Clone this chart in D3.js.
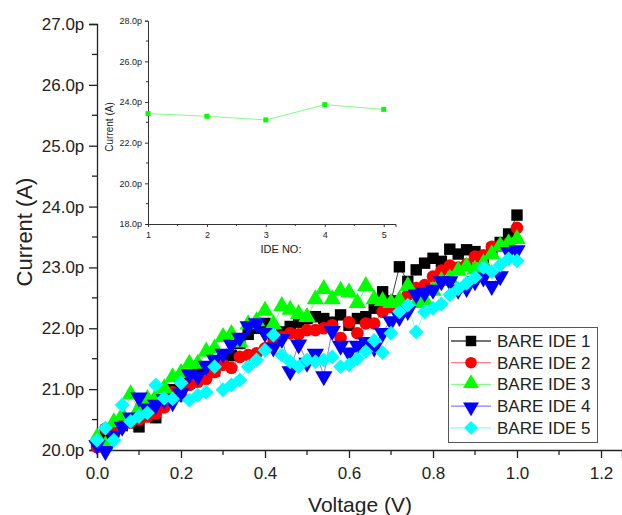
<!DOCTYPE html>
<html>
<head>
<meta charset="utf-8">
<script src="https://cdn.jsdelivr.net/npm/d3@7"></script>
<style>
  body { margin: 0; background: #fff; }
  svg { display: block; font-family: "Liberation Sans", Arial, sans-serif; }
</style>
</head>
<body>
<svg id="chart" width="622" height="515"></svg>
<script>
// ---- data ----
const voltage = d3.range(0, 51).map(i => +(i * 0.02).toFixed(2));

const ide1 = [20.10, 20.27, 20.30, 20.40, 20.45, 20.38, 20.55, 20.53, 20.75, 20.99,
              20.95, 21.10, 21.31, 21.25, 21.30, 21.50, 21.55, 21.75, 21.90, 22.00,
              22.08, 21.85, 21.94, 22.03, 22.10, 22.16, 22.19, 22.16, 22.10, 22.22,
              22.05, 22.16, 22.19, 22.33, 22.60, 22.45, 23.01, 22.77, 22.96, 23.07,
              23.15, 23.10, 23.30, 23.22, 23.29, 23.26, 23.07, 23.30, 23.41, 23.55, 23.86];
const ide2 = [20.05, 20.35, 20.30, 20.40, 20.45, 20.50, 20.55, 20.60, 20.70, 20.95,
              20.90, 21.07, 21.12, 21.17, 21.28, 21.40, 21.35, 21.53, 21.56, 21.59,
              21.67, 21.75, 21.86, 21.92, 21.90, 21.97, 21.97, 22.00, 22.05, 21.84,
              22.10, 21.92, 22.08, 22.08, 22.27, 22.35, 22.44, 22.55, 22.66, 22.71,
              22.85, 22.95, 23.03, 23.00, 23.05, 23.18, 23.20, 23.34, 23.36, 23.40, 23.65];
const ide3 = [20.19, 20.06, 20.44, 20.55, 20.90, 20.66, 20.82, 20.85, 21.00, 21.18,
              21.25, 21.40, 21.40, 21.60, 21.65, 21.84, 21.89, 21.75, 22.05, 22.10,
              22.27, 22.05, 22.35, 22.29, 22.22, 22.17, 22.46, 22.63, 22.46, 22.60,
              22.57, 22.40, 22.68, 22.46, 22.43, 22.40, 22.45, 22.68, 22.40, 22.45,
              22.60, 22.76, 22.80, 22.93, 23.00, 22.95, 23.05, 23.20, 23.34, 23.38, 23.45];
const ide4 = [20.10, 20.00, 20.25, 20.40, 20.55, 20.88, 20.70, 20.76, 20.85, 20.80,
              20.95, 21.26, 21.23, 21.40, 21.50, 21.60, 21.75, 21.86, 22.05, 22.10,
              21.94, 21.70, 21.84, 21.31, 21.75, 21.45, 21.60, 21.23, 21.97, 21.73,
              21.62, 21.73, 21.79, 21.70, 21.94, 22.13, 22.20, 22.30, 22.57, 22.60,
              22.65, 22.79, 22.79, 22.65, 22.68, 22.79, 22.85, 22.71, 22.87, 23.27, 23.30];
const ide5 = [20.16, 20.36, 20.16, 20.74, 20.47, 20.55, 20.61, 21.07, 20.85, 20.84,
              21.10, 20.82, 20.90, 20.95, 21.37, 20.99, 21.07, 21.15, 21.37, 21.48,
              21.64, 21.89, 21.56, 21.45, 21.37, 21.48, 21.45, 21.48, 21.53, 21.37,
              21.40, 21.50, 21.62, 21.80, 21.60, 21.92, 22.27, 22.38, 21.94, 22.27,
              22.33, 22.40, 22.55, 22.65, 22.74, 22.84, 23.00, 22.93, 23.04, 23.14, 23.11];

const seriesNames = ["BARE IDE 1", "BARE IDE 2", "BARE IDE 3", "BARE IDE 4", "BARE IDE 5"];
const seriesValues = [ide1, ide2, ide3, ide4, ide5];
const markerColors = ["#000000", "#ff0000", "#00ff00", "#0000ff", "#00ffff"];
const lineColors = ["#444444", "#ff8080", "#80ff80", "#8080ff", "#80ffff"];
const markerTypes = ["square", "circle", "up", "down", "diamond"];

const xTicks = [0, 0.2, 0.4, 0.6, 0.8, 1.0, 1.2];
const yTicks = [20, 21, 22, 23, 24, 25, 26, 27];

// inset
const ideNo = [1, 2, 3, 4, 5];
const ideCurrent = [23.43, 23.30, 23.12, 23.87, 23.64];
const insetYTicks = [18, 20, 22, 24, 26, 28];

// ---- main chart ----
const svg = d3.select("#chart");
const x = d3.scaleLinear().domain([0, 1.25]).range([97, 622]);
const y = d3.scaleLinear().domain([20, 27]).range([450, 24]);

function markerPath(type, size) {
  if (type === "circle") return d3.symbol(d3.symbolCircle, size * 0.95)();
  if (type === "up" || type === "down") return d3.symbol(d3.symbolTriangle, size * 1.0)();
  return d3.symbol(d3.symbolSquare, type === "diamond" ? size * 0.85 : size)();
}
function markerTransform(type, px, py) {
  if (type === "down") return `translate(${px},${py + 1}) rotate(180)`;
  if (type === "up") return `translate(${px},${py - 1})`;
  if (type === "diamond") return `translate(${px},${py}) rotate(45)`;
  return `translate(${px},${py})`;
}

// x axis
const xAxis = svg.append("g").attr("transform", "translate(0,450)")
  .call(d3.axisBottom(x).tickValues(xTicks).tickFormat(d3.format(".1f")).tickSizeOuter(0).tickSize(8));
xAxis.selectAll("text").attr("font-size", 17).attr("dy", "1.05em").attr("fill", "#222");
xAxis.select(".domain").attr("stroke", "#222").attr("stroke-width", 1.3);
xAxis.selectAll(".tick line").attr("stroke", "#222").attr("stroke-width", 1.3);
svg.append("g").selectAll("line").data(d3.range(0.1, 1.25, 0.2)).join("line")
  .attr("x1", d => x(d)).attr("x2", d => x(d)).attr("y1", 450).attr("y2", 455)
  .attr("stroke", "#222").attr("stroke-width", 1.3);

// y axis
const yAxis = svg.append("g").attr("transform", "translate(97,0)")
  .call(d3.axisLeft(y).tickValues(yTicks).tickFormat(d => d.toFixed(1) + "p").tickSizeOuter(0).tickSize(8));
yAxis.selectAll("text").attr("font-size", 17).attr("dx", "-0.1em").attr("fill", "#222");
yAxis.select(".domain").attr("stroke", "#222").attr("stroke-width", 1.3);
yAxis.selectAll(".tick line").attr("stroke", "#222").attr("stroke-width", 1.3);
svg.append("g").selectAll("line").data(d3.range(20.5, 27, 1)).join("line")
  .attr("x1", 92).attr("x2", 97).attr("y1", d => y(d)).attr("y2", d => y(d))
  .attr("stroke", "#222").attr("stroke-width", 1.3);

svg.append("text").attr("x", 360).attr("y", 512).attr("text-anchor", "middle")
  .attr("font-size", 21).attr("fill", "#222").text("Voltage (V)");
svg.append("text").attr("transform", "translate(32,232) rotate(-90)").attr("text-anchor", "middle")
  .attr("font-size", 22).attr("fill", "#222").text("Current (A)");

// series
const line = d3.line().x((d, i) => x(voltage[i])).y(d => y(d));
seriesValues.forEach((vals, s) => {
  svg.append("path").datum(vals).attr("d", line).attr("fill", "none")
    .attr("stroke", lineColors[s]).attr("stroke-width", 1);
});
seriesValues.forEach((vals, s) => {
  svg.append("g").selectAll("path").data(vals).join("path")
    .attr("d", markerPath(markerTypes[s], 130))
    .attr("transform", (d, i) => markerTransform(markerTypes[s], x(voltage[i]), y(d)))
    .attr("fill", markerColors[s]);
});

// legend
const legend = svg.append("g");
legend.append("rect").attr("x", 448.5).attr("y", 327.5).attr("width", 149).attr("height", 115)
  .attr("fill", "#fff").attr("stroke", "#555").attr("stroke-width", 1);
seriesNames.forEach((name, s) => {
  const ly = 341 + s * 21.7;
  legend.append("line").attr("x1", 451).attr("x2", 491).attr("y1", ly).attr("y2", ly)
    .attr("stroke", lineColors[s]).attr("stroke-width", 1.3);
  legend.append("path").attr("d", markerPath(markerTypes[s], 110))
    .attr("transform", markerTransform(markerTypes[s], 471, ly)).attr("fill", markerColors[s]);
  legend.append("text").attr("x", 497).attr("y", ly + 6).attr("font-size", 17)
    .attr("fill", "#222").text(name);
});

// ---- inset ----
const ix = d3.scaleLinear().domain([1, 5.2]).range([148, 395.5]);
const iy = d3.scaleLinear().domain([18, 28]).range([224, 20.7]);
const inset = svg.append("g");

const ixAxis = inset.append("g").attr("transform", "translate(0,224)")
  .call(d3.axisBottom(ix).tickValues(ideNo).tickFormat(d3.format("d")).tickSizeOuter(0).tickSize(3));
ixAxis.selectAll("text").attr("font-size", 9).attr("dy", "0.9em").attr("fill", "#222");
ixAxis.select(".domain").attr("stroke", "#333");
ixAxis.selectAll(".tick line").attr("stroke", "#333");
inset.append("g").selectAll("line").data([1.5, 2.5, 3.5, 4.5]).join("line")
  .attr("x1", d => ix(d)).attr("x2", d => ix(d)).attr("y1", 224).attr("y2", 226)
  .attr("stroke", "#333");

const iyAxis = inset.append("g").attr("transform", "translate(148,0)")
  .call(d3.axisLeft(iy).tickValues(insetYTicks).tickFormat(d => d.toFixed(1) + "p").tickSizeOuter(0).tickSize(3));
iyAxis.selectAll("text").attr("font-size", 9).attr("fill", "#222");
iyAxis.select(".domain").attr("stroke", "#333");
iyAxis.selectAll(".tick line").attr("stroke", "#333");
inset.append("g").selectAll("line").data(d3.range(19, 28, 2)).join("line")
  .attr("x1", 146).attr("x2", 148).attr("y1", d => iy(d)).attr("y2", d => iy(d))
  .attr("stroke", "#333");

inset.append("text").attr("x", 281).attr("y", 253).attr("text-anchor", "middle")
  .attr("font-size", 11).attr("fill", "#222").text("IDE NO:");
inset.append("text").attr("transform", "translate(113,127) rotate(-90)").attr("text-anchor", "middle")
  .attr("font-size", 10).attr("fill", "#222").text("Current (A)");

inset.append("path").datum(ideCurrent)
  .attr("d", d3.line().x((d, i) => ix(ideNo[i])).y(d => iy(d)))
  .attr("fill", "none").attr("stroke", "#80ff80").attr("stroke-width", 1);
inset.append("g").selectAll("rect").data(ideCurrent).join("rect")
  .attr("x", (d, i) => ix(ideNo[i]) - 2.5).attr("y", d => iy(d) - 2.5)
  .attr("width", 5).attr("height", 5).attr("fill", "#00ff00");
</script>
</body>
</html>
